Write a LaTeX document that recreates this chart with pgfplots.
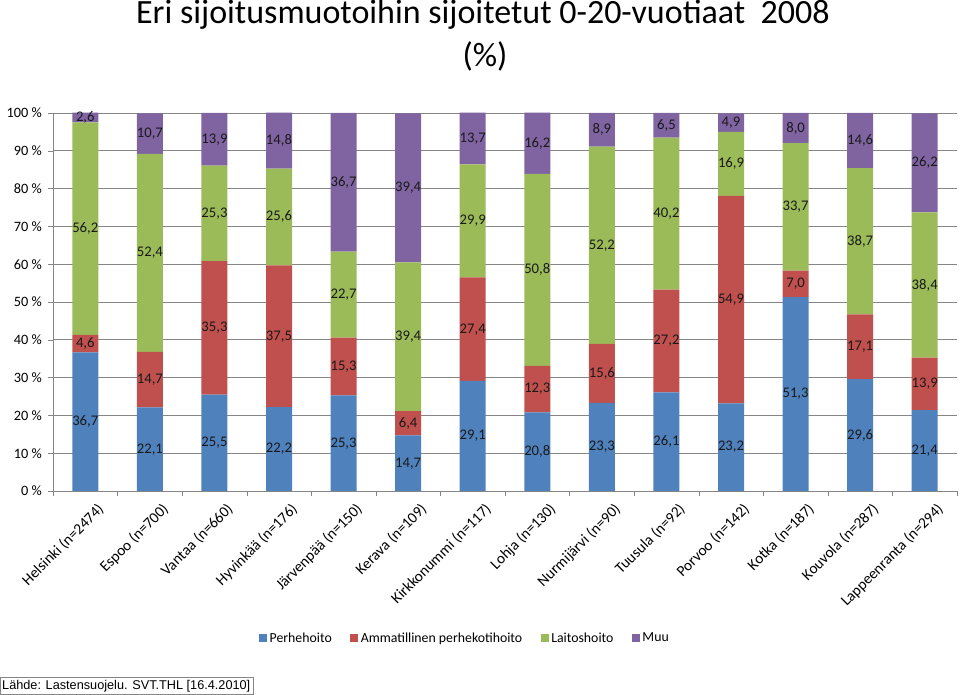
\documentclass[border=0pt]{standalone}
\usepackage{pgfplots}
\pgfplotsset{compat=1.18}
\usepackage{pgfplotstable}
\usepackage{fontspec}
\setmainfont{Carlito}
\newfontfamily\arialfont{Liberation Sans}
\definecolor{cblue}{HTML}{4F81BD}
\definecolor{cred}{HTML}{C0504D}
\definecolor{cgreen}{HTML}{9BBB59}
\definecolor{cpurple}{HTML}{8064A2}
\definecolor{axgray}{HTML}{868686}

\pgfplotsset{sqlegend/.style={legend image code/.code={\fill[##1] (0pt,-4pt) rectangle (8pt,4pt);}}}

\pgfplotstableread{
x a b c d
0 36.7 4.6 56.2 2.6
1 22.1 14.7 52.4 10.7
2 25.5 35.3 25.3 13.9
3 22.2 37.5 25.6 14.8
4 25.3 15.3 22.7 36.7
5 14.7 6.4 39.4 39.4
6 29.1 27.4 29.9 13.7
7 20.8 12.3 50.8 16.2
8 23.3 15.6 52.2 8.9
9 26.1 27.2 40.2 6.5
10 23.2 54.9 16.9 4.9
11 51.3 7.0 33.7 8.0
12 29.6 17.1 38.7 14.6
13 21.4 13.9 38.4 26.2
}\data

\begin{document}
\begin{tikzpicture}
\path[use as bounding box] (0pt,0pt) rectangle (960pt,695pt);

\node[font=\fontsize{34}{40}\selectfont, anchor=base] at (483pt,671pt) {Eri sijoitusmuotoihin sijoitetut 0-20-vuotiaat\ \ 2008};
\node[font=\fontsize{34}{40}\selectfont, anchor=base] at (485pt,628pt) {(\%)};

\begin{axis}[
  at={(53pt,204pt)}, anchor=south west,
  scale only axis, width=904pt, height=378pt,
  ybar stacked, bar width=26pt,
  xmin=-0.5, xmax=13.5, ymin=0, ymax=100,
  enlargelimits=false,
  axis x line*=bottom, axis y line*=left,
  axis line style={draw=axgray, -},
  tick align=outside,
  major tick length=5pt, minor tick length=5pt,
  ytick={0,10,...,100},
  yticklabels={0~\%,10~\%,20~\%,30~\%,40~\%,50~\%,60~\%,70~\%,80~\%,90~\%,100~\%},
  yticklabel style={font=\fontsize{14.3}{16}\selectfont, inner sep=2pt, xshift=-4pt},
  ymajorgrids, grid style={draw=axgray, line width=0.8pt},
  y tick style={draw=axgray},
  xtick={0,...,13},
  major x tick style={draw=none},
  minor xtick={-0.5,0.5,...,13.5},
  minor x tick style={draw=axgray},
  xticklabels={Helsinki (n=2474),Espoo (n=700),Vantaa (n=660),Hyvinkää (n=176),Järvenpää (n=150),Kerava (n=109),Kirkkonummi (n=117),Lohja (n=130),Nurmijärvi (n=90),Tuusula (n=92),Porvoo (n=142),Kotka (n=187),Kouvola (n=287),Lappeenranta (n=294)},
  xticklabel style={font=\fontsize{15.3}{17}\selectfont, rotate=45, anchor=north east, inner sep=1pt, xshift=5pt, yshift=-11pt},
  legend style={at={(0.456,-0.389)}, anchor=center, legend columns=4, draw=none,
    font=\fontsize{13.8}{16}\selectfont,
    nodes={inner sep=2.5pt},
    /tikz/every even column/.append style={column sep=16pt}},
]
\addplot[draw=none, fill=cblue, sqlegend] table[x=x, y=a] {\data};
\addplot[draw=none, fill=cred, sqlegend] table[x=x, y=b] {\data};
\addplot[draw=none, fill=cgreen, sqlegend] table[x=x, y=c] {\data};
\addplot[draw=none, fill=cpurple, sqlegend] table[x=x, y=d] {\data};
\legend{Perhehoito, Ammatillinen perhekotihoito, Laitoshoito, Muu}
\end{axis}

\begin{axis}[
  at={(53pt,204pt)}, anchor=south west,
  scale only axis, width=904pt, height=378pt,
  xmin=-0.5, xmax=13.5, ymin=0, ymax=100,
  enlargelimits=false,
  hide axis,
  point meta=explicit,
  nodes near coords,
  every node near coord/.append style={font=\fontsize{14.7}{16}\selectfont, anchor=center, text=black!90, inner sep=0pt},
  /pgf/number format/use comma,
  /pgf/number format/fixed,
  /pgf/number format/fixed zerofill,
  /pgf/number format/precision=1,
  /pgf/number format/assume math mode=true,
]
\addplot[draw=none, mark=none] table[x=x, y expr=\thisrow{a}/2, meta=a] {\data};
\addplot[draw=none, mark=none] table[x=x, y expr=\thisrow{a}+\thisrow{b}/2, meta=b] {\data};
\addplot[draw=none, mark=none] table[x=x, y expr=\thisrow{a}+\thisrow{b}+\thisrow{c}/2, meta=c] {\data};
\addplot[draw=none, mark=none] table[x=x, y expr=\thisrow{a}+\thisrow{b}+\thisrow{c}+\thisrow{d}/2, meta=d] {\data};
\end{axis}

\draw[axgray, line width=0.6pt] (0.3pt,0.3pt) rectangle (253pt,18pt);
\node[anchor=base west, font=\arialfont\fontsize{12.7}{14}\selectfont, inner sep=0pt] at (2pt,5pt) {Lähde: Lastensuojelu. SVT.THL [16.4.2010]};
\end{tikzpicture}
\end{document}
